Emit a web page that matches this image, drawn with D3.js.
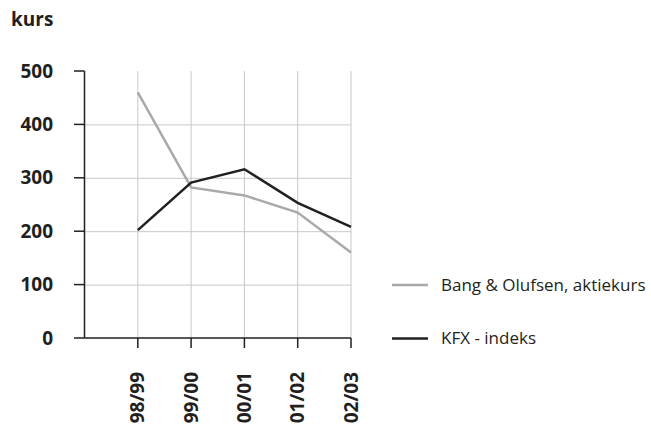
<!DOCTYPE html>
<html>
<head>
<meta charset="utf-8">
<script src="https://cdn.jsdelivr.net/npm/d3@7/dist/d3.min.js"></script>
<style>
  html, body { margin: 0; padding: 0; background: #fff; }
  svg { display: block; font-family: "Open Sans", sans-serif; }
</style>
</head>
<body>
<svg id="chart" width="651" height="427"></svg>
<script>
const categories = ["98/99", "99/00", "00/01", "01/02", "02/03"];
const bangOlufsen = [460, 282, 267, 235, 160];
const kfx = [202, 291, 316, 253, 208];
const yTicks = [0, 100, 200, 300, 400, 500];
const seriesNames = ["Bang & Olufsen, aktiekurs", "KFX - indeks"];
const seriesColors = ["#a7a9ac", "#231f20"];

const svg = d3.select("#chart");
const ink = "#231f20";

const x = d3.scaleLinear().domain([-1, categories.length - 1]).range([84.5, 351]);
const y = d3.scaleLinear().domain([0, 500]).range([338, 71]);

// title
svg.append("text").attr("x", 11).attr("y", 26)
  .attr("font-weight", "bold").attr("font-size", 19).attr("fill", ink).text("kurs");

// gridlines
const grid = svg.append("g").attr("stroke", "#c8c8c8").attr("stroke-width", 1);
grid.selectAll("line.h").data(yTicks.filter(d => d > 0 && d < 500)).join("line")
  .attr("x1", x(-1)).attr("x2", x(categories.length - 1))
  .attr("y1", d => y(d) + 0.5).attr("y2", d => y(d) + 0.5);
grid.selectAll("line.v").data(categories).join("line")
  .attr("x1", (d, i) => x(i)).attr("x2", (d, i) => x(i))
  .attr("y1", y(500)).attr("y2", y(0));

// axes
const axes = svg.append("g").attr("stroke", ink).attr("stroke-width", 1.5).attr("fill", "none");
axes.append("line").attr("x1", x(-1)).attr("x2", x(-1)).attr("y1", y(500)).attr("y2", y(0));
axes.append("line").attr("x1", 74).attr("x2", x(categories.length - 1)).attr("y1", y(0)).attr("y2", y(0));
axes.selectAll("line.yt").data(yTicks.filter(d => d > 0)).join("line")
  .attr("x1", 74).attr("x2", x(-1)).attr("y1", d => y(d)).attr("y2", d => y(d));
axes.selectAll("line.xt").data(categories).join("line")
  .attr("x1", (d, i) => x(i)).attr("x2", (d, i) => x(i)).attr("y1", y(0)).attr("y2", y(0) + 10);

// y tick labels
svg.append("g").selectAll("text").data(yTicks).join("text")
  .attr("x", 53).attr("y", d => y(d)).attr("dy", "0.35em")
  .attr("text-anchor", "end").attr("font-weight", "bold").attr("font-size", 19)
  .attr("fill", ink).text(d => d);

// x tick labels
svg.append("g").selectAll("text").data(categories).join("text")
  .attr("transform", (d, i) => `translate(${x(i)},372) rotate(-90)`)
  .attr("dy", "0.35em").attr("text-anchor", "end")
  .attr("font-weight", "bold").attr("font-size", 19).attr("fill", ink).text(d => d);

// lines
const line = d3.line().x((d, i) => x(i)).y(d => y(d));
[bangOlufsen, kfx].forEach((s, k) => {
  svg.append("path").datum(s).attr("d", line)
    .attr("fill", "none").attr("stroke", seriesColors[k]).attr("stroke-width", 2.5)
    .attr("stroke-linejoin", "miter");
});

// legend
const legY = [285, 338.5];
const leg = svg.append("g");
seriesNames.forEach((n, k) => {
  leg.append("line").attr("x1", 392).attr("x2", 428).attr("y1", legY[k]).attr("y2", legY[k])
    .attr("stroke", seriesColors[k]).attr("stroke-width", 2.5);
  leg.append("text").attr("x", 441).attr("y", legY[k]).attr("dy", "0.35em")
    .attr("font-size", 17).attr("fill", ink).text(n);
});
</script>
</body>
</html>
